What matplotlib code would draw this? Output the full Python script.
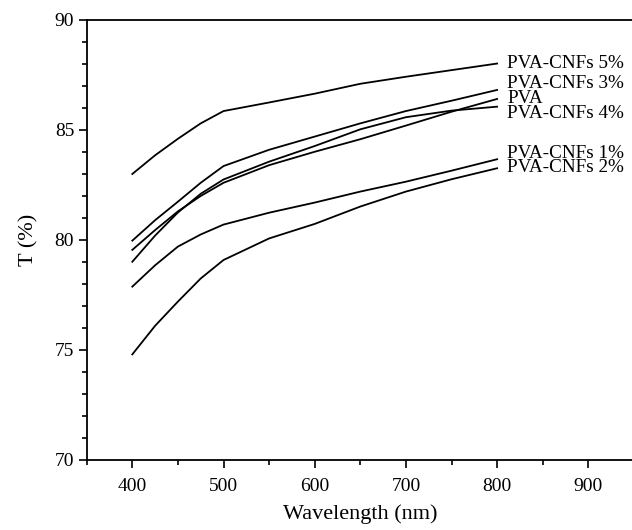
import matplotlib
matplotlib.use("Agg")
import matplotlib.pyplot as plt
from matplotlib.ticker import MultipleLocator

# ---- data ----
wavelength = [400, 425, 450, 475, 500, 550, 600, 650, 700, 750, 800]
t_5 = [83.0, 83.85, 84.6, 85.3, 85.86, 86.25, 86.65, 87.1, 87.42, 87.72, 88.02]
t_3 = [79.97, 80.9, 81.74, 82.6, 83.36, 84.1, 84.7, 85.3, 85.86, 86.33, 86.82]
t_pva = [79.55, 80.45, 81.3, 82.0, 82.6, 83.4, 84.01, 84.58, 85.2, 85.83, 86.41]
t_4 = [79.01, 80.2, 81.25, 82.1, 82.75, 83.56, 84.27, 85.03, 85.58, 85.88, 86.06]
t_1 = [77.88, 78.85, 79.7, 80.25, 80.7, 81.24, 81.7, 82.2, 82.65, 83.15, 83.67]
t_2 = [74.8, 76.1, 77.2, 78.25, 79.09, 80.07, 80.73, 81.52, 82.2, 82.76, 83.26]

series = [t_5, t_3, t_pva, t_4, t_1, t_2]
labels = ["PVA-CNFs 5%", "PVA-CNFs 3%", "PVA", "PVA-CNFs 4%", "PVA-CNFs 1%", "PVA-CNFs 2%"]
label_y = [88.03, 87.12, 86.41, 85.73, 83.94, 83.29]

plt.rcParams["font.family"] = ["Liberation Serif", "DejaVu Serif"]

fig = plt.figure(figsize=(6.32, 5.30), dpi=100)
ax = fig.add_axes([0.1372, 0.1321, 1.003 - 0.1372, 0.8302])

for ys in series:
    ax.plot(wavelength, ys, color="black", lw=1.3)

for lab, yl in zip(labels, label_y):
    ax.text(811, yl, lab, fontsize=13.8, va="center", ha="left", color="black",
            linespacing=1.0)

ax.set_xlim(350, 950)
ax.set_ylim(70, 90)
ax.xaxis.set_major_locator(MultipleLocator(100))
ax.xaxis.set_minor_locator(MultipleLocator(50))
ax.yaxis.set_major_locator(MultipleLocator(5))
ax.yaxis.set_minor_locator(MultipleLocator(1))
ax.tick_params(which="both", direction="out", width=1.2, labelsize=14, top=False, right=False)
ax.tick_params(which="major", length=6)
ax.tick_params(which="minor", length=3.5)
ax.tick_params(axis="x", pad=7)
ax.tick_params(axis="y", pad=3)
ax.spines["right"].set_visible(False)
for sp in ["left", "bottom", "top"]:
    ax.spines[sp].set_linewidth(1.3)

ax.set_xlabel("Wavelength (nm)", fontsize=16, labelpad=7)
ax.set_ylabel("T (%)", fontsize=16, labelpad=12)

fig.savefig("out.png", dpi=100)
